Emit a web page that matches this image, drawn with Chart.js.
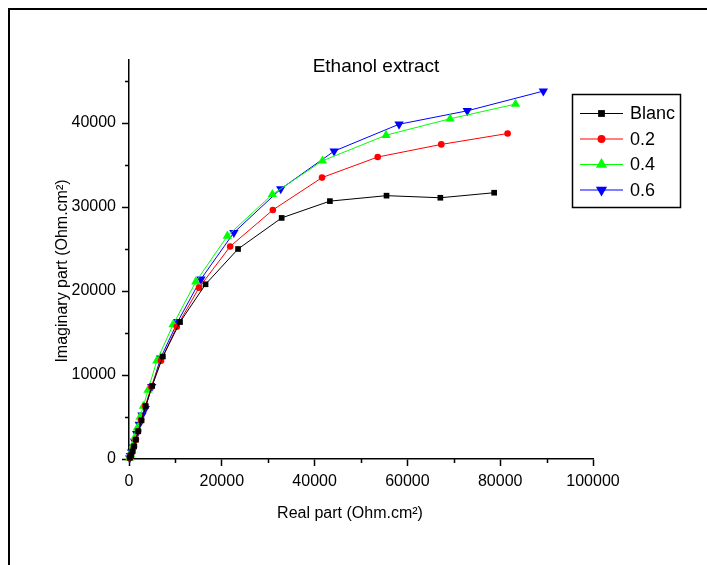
<!DOCTYPE html>
<html>
<head>
<meta charset="utf-8">
<title>Ethanol extract</title>
<script src="https://cdn.jsdelivr.net/npm/chart.js@4.4.1/dist/chart.umd.min.js"></script>
<style>
  html, body { margin: 0; padding: 0; background: #fff; overflow: hidden; }
  .frame { position: absolute; left: 8px; top: 8px; width: 800px; height: 700px;
           border: 2px solid #000; pointer-events: none; }
  #wrap { position: relative; width: 707px; height: 565px; }
  canvas { position: absolute; left: 0; top: 0; }
</style>
</head>
<body>
<div id="wrap">
  <div class="frame"></div>
  <canvas id="nyquist" width="707" height="565"></canvas>
</div>
<script>
// ---- Data -----------------------------------------------------------------
const seriesNames = ["Blanc", "0.2", "0.4", "0.6"];

const blancRe = [200, 450, 750, 1100, 1500, 2000, 2700, 3600, 5000, 7300, 11000, 16500, 23500, 32900, 43300, 55500, 67100, 78700];
const blancIm = [150, 450, 900, 1500, 2300, 3300, 4600, 6300, 8700, 12200, 16300, 20800, 25000, 28700, 30700, 31350, 31100, 31700];

const c02Re = [180, 400, 700, 1050, 1450, 1950, 2600, 3500, 4800, 6900, 10300, 15100, 21800, 31000, 41600, 53600, 67300, 81600];
const c02Im = [150, 450, 900, 1500, 2300, 3300, 4600, 6300, 8600, 11700, 15750, 20400, 25300, 29650, 33500, 35950, 37450, 38750];

const c04Re = [150, 350, 600, 900, 1300, 1800, 2400, 3100, 4100, 6000, 9500, 14400, 21200, 30900, 41700, 55400, 69200, 83300];
const c04Im = [150, 500, 1000, 1700, 2600, 3700, 5000, 6300, 8200, 11700, 16000, 21100, 26550, 31500, 35500, 38550, 40500, 42250];

const c06Re = [150, 300, 550, 850, 1200, 1650, 2200, 2800, 3500, 4900, 6800, 10500, 15500, 22600, 32700, 44200, 58200, 72900, 89300];
const c06Im = [100, 400, 800, 1400, 2100, 3000, 4100, 5200, 6000, 8600, 12000, 16350, 21400, 26950, 32150, 36650, 39850, 41450, 43800];

const xTicks = [0, 20000, 40000, 60000, 80000, 100000];
const yTicks = [0, 10000, 20000, 30000, 40000];
const xMinor = [10000, 30000, 50000, 70000, 90000];
const yMinor = [5000, 15000, 25000, 35000, 45000];

// ---- Styles ---------------------------------------------------------------
const FONT = '"Liberation Sans", Arial, sans-serif';
const looks = [
  { color: "#000000", style: "rect",     radius: 4,   rotation: 0 },
  { color: "#ff0000", style: "circle",   radius: 3.3, rotation: 0 },
  { color: "#00ff00", style: "triangle", radius: 5.4, rotation: 0 },
  { color: "#0000ff", style: "triangle", radius: 5.4, rotation: 180 }
];

const pairs = (xs, ys) => xs.map((x, i) => ({ x, y: ys[i] }));
const allData = [
  pairs(blancRe, blancIm),
  pairs(c02Re, c02Im),
  pairs(c04Re, c04Im),
  pairs(c06Re, c06Im)
];

// ---- Extras: minor ticks, axis titles, title, legend ----------------------
const extras = {
  id: "extras",
  afterDraw(chart) {
    const { ctx, scales: { x, y } } = chart;
    const area = chart.chartArea;
    ctx.save();
    ctx.strokeStyle = "#000";
    ctx.lineWidth = 1.5;
    ctx.beginPath();
    xMinor.forEach(v => {
      const px = Math.round(x.getPixelForValue(v)) + 0.5;
      ctx.moveTo(px, area.bottom); ctx.lineTo(px, area.bottom + 4);
    });
    yMinor.forEach(v => {
      const py = Math.round(y.getPixelForValue(v)) + 0.5;
      ctx.moveTo(area.left, py); ctx.lineTo(area.left - 4, py);
    });
    ctx.stroke();

    ctx.fillStyle = "#000";
    // chart title
    ctx.font = "19px " + FONT;
    ctx.textAlign = "center";
    ctx.textBaseline = "alphabetic";
    ctx.fillText("Ethanol extract", 376, 72);

    // axis titles
    ctx.font = "16px " + FONT;
    ctx.fillText("Real part (Ohm.cm\u00b2)", 350, 518);
    ctx.save();
    ctx.translate(67, 271);
    ctx.rotate(-Math.PI / 2);
    ctx.fillText("Imaginary part (Ohm.cm\u00b2)", 0, 0);
    ctx.restore();

    // legend box
    ctx.lineWidth = 1.5;
    ctx.strokeRect(572.5, 94.5, 108, 113);
    ctx.font = "18px " + FONT;
    ctx.textAlign = "left";
    ctx.textBaseline = "middle";
    seriesNames.forEach((name, i) => {
      const lk = looks[i];
      const cy = 113.5 + i * 25.5;
      ctx.strokeStyle = lk.color;
      ctx.lineWidth = 1;
      ctx.beginPath();
      ctx.moveTo(580, cy); ctx.lineTo(623, cy);
      ctx.stroke();
      ctx.fillStyle = lk.color;
      Chart.helpers.drawPoint(ctx, {
        pointStyle: lk.style, rotation: lk.rotation,
        radius: lk.radius * 1.2, borderWidth: 0
      }, 601.5, cy);
      ctx.fillStyle = "#000";
      ctx.fillText(name, 630, cy + 1);
    });
    ctx.restore();
  }
};

// ---- Chart ----------------------------------------------------------------
const axisCommon = {
  type: "linear",
  grid: { display: true, drawOnChartArea: false, drawTicks: true, tickLength: 7, tickColor: "#000", tickWidth: 1.5 },
  border: { display: true, color: "#000", width: 1.5 },
  ticks: { color: "#000", font: { family: FONT, size: 16 }, callback: v => String(v) }
};

new Chart(document.getElementById("nyquist"), {
  type: "scatter",
  data: {
    datasets: allData.map((pts, i) => ({
      label: seriesNames[i],
      data: pts,
      showLine: true,
      borderColor: looks[i].color,
      backgroundColor: looks[i].color,
      borderWidth: 1,
      pointStyle: looks[i].style,
      pointRotation: looks[i].rotation,
      pointRadius: looks[i].radius,
      pointBorderWidth: 0,
      clip: false
    }))
  },
  options: {
    responsive: false,
    animation: false,
    devicePixelRatio: 1,
    layout: { padding: { left: 0, top: 60, right: 114, bottom: 0 } },
    plugins: { legend: { display: false }, title: { display: false }, tooltip: { enabled: false } },
    scales: {
      x: {
        ...axisCommon,
        position: "bottom",
        min: 0, max: 100000,
        ticks: { ...axisCommon.ticks, padding: 6, maxRotation: 0, autoSkip: false },
        afterBuildTicks: s => { s.ticks = xTicks.map(value => ({ value })); },
        afterFit: s => { s.height = 106; }
      },
      y: {
        ...axisCommon,
        position: "left",
        min: 0, max: 47500,
        ticks: { ...axisCommon.ticks, padding: 6, autoSkip: false },
        afterBuildTicks: s => { s.ticks = yTicks.map(value => ({ value })); },
        afterFit: s => { s.width = 129; }
      }
    }
  },
  plugins: [extras]
});
</script>
</body>
</html>
